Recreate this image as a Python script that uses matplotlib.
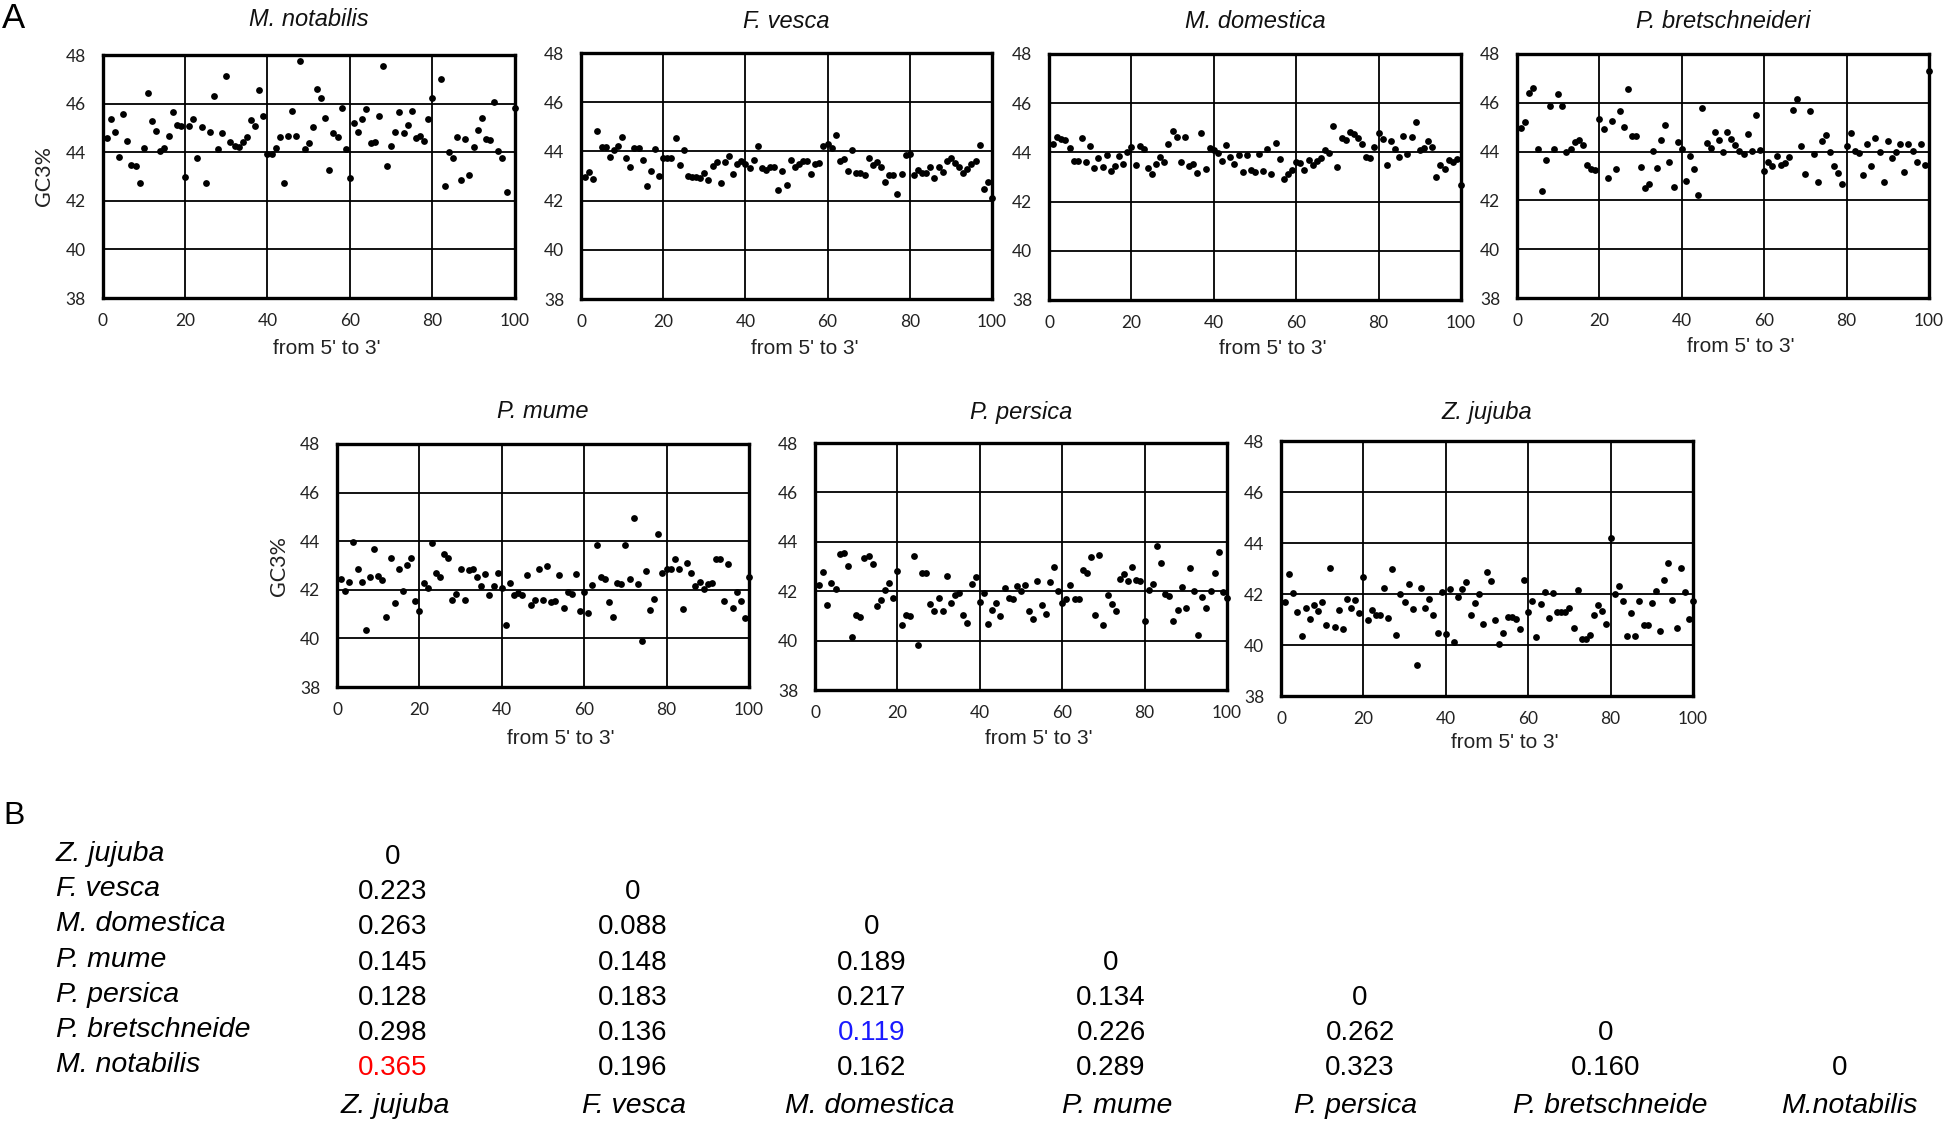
import numpy as np
import matplotlib
matplotlib.use("Agg")
import matplotlib.pyplot as plt

# ---------------- data ----------------
x_pos = np.arange(1, 101)
nan = np.nan

m_notabilis = [44.60, 45.38, 44.84, 43.82, 45.58, 44.48, 43.49, 43.42, 42.75, 44.18,
               46.45, 45.29, 44.88, 44.03, 44.16, 44.67, 45.64, 45.11, 45.08, 42.99,
               45.08, 45.38, 43.77, 45.05, 42.73, 44.82, 46.33, 44.14, 44.78, 47.12,
               44.44, 44.26, 44.21, 44.40, 44.63, 45.34, 45.07, 46.56, 45.51, 43.92,
               43.93, 44.19, 44.64, 42.75, 44.68, 45.70, 44.67, 47.75, 44.15, 44.37,
               45.03, 46.59, 46.25, 45.42, 43.26, 44.78, 44.63, 45.82, 44.12, 42.93,
               45.21, 44.84, 45.36, 45.77, 44.36, 44.42, 45.47, 47.56, 43.45, 44.26,
               44.82, 45.67, 44.81, 45.11, 45.71, 44.60, 44.67, 44.45, 45.36, 46.21,
               nan, 47.00, 42.60, 44.00, 43.75, 44.62, 42.85, 44.55, 43.05, 44.22,
               44.92, 45.40, 44.56, 44.52, 46.06, 44.05, 43.76, 42.35, nan, 45.81]

f_vesca = [42.94, 43.17, 42.88, 44.81, 44.17, 44.17, 43.77, 44.04, 44.23, 44.57,
           43.73, 43.35, 44.12, 44.12, 43.65, 42.60, 43.21, 44.10, 42.98, 43.73,
           43.73, 43.73, 44.56, 43.43, 44.06, 42.98, 42.97, 42.94, 42.91, 43.13,
           42.84, 43.41, 43.55, 42.71, 43.55, 43.82, 43.09, 43.50, 43.63, 43.50,
           43.32, 43.67, 44.20, 43.31, 43.25, 43.36, 43.36, 42.44, 43.19, 42.62,
           43.67, 43.37, 43.50, 43.63, 43.60, 43.09, 43.47, 43.52, 44.23, 44.31,
           44.15, 44.67, 43.63, 43.68, 43.20, 44.04, 43.13, 43.13, 43.03, 43.74,
           43.43, 43.57, 43.36, 42.74, 43.03, 43.03, 42.27, 43.09, 43.85, 43.90,
           43.05, 43.25, 43.13, 43.13, 43.36, 42.90, 43.36, 43.17, 43.60, 43.74,
           43.52, 43.35, 43.13, 43.28, 43.50, 43.63, 44.26, 42.49, 42.76, 42.10]

m_domestica = [44.36, 44.62, 44.54, 44.51, 44.19, 43.64, 43.67, 44.58, 43.62, 44.27,
               43.36, 43.78, 43.40, 43.89, 43.24, 43.43, 43.86, 43.51, 44.00, 44.23,
               43.47, 44.27, 44.15, 43.37, 43.13, 43.54, 43.83, 43.62, 44.34, 44.88,
               44.61, 43.62, 44.63, 43.45, 43.54, 43.16, 44.80, 43.31, 44.16, 44.11,
               43.98, 43.66, 44.32, 43.83, 43.54, 43.88, 43.22, 43.89, 43.29, 43.20,
               43.93, 43.25, 44.15, 43.14, 44.38, 43.73, 42.90, 43.12, 43.28, 43.62,
               43.56, 43.29, 43.70, 43.50, 43.67, 43.77, 44.09, 43.96, 45.08, 43.40,
               44.58, 44.51, 44.81, 44.73, 44.58, 44.34, 43.83, 43.77, 44.21, 44.78,
               44.55, 43.50, 44.47, 44.13, 43.82, 44.68, 43.92, 44.62, 45.22, 44.11,
               44.19, 44.47, 44.21, 43.01, 43.47, 43.31, 43.69, 43.63, 43.74, 42.68]

p_bretschneideri = [44.97, 45.21, 46.41, 46.62, 44.12, 42.38, 43.67, 45.85, 44.12, 46.38,
                    45.86, 43.97, 44.10, 44.40, 44.47, 44.26, 43.47, 43.29, 43.25, 45.33,
                    44.92, 42.90, 45.26, 43.30, 45.66, 44.99, 46.58, 44.62, 44.62, 43.36,
                    42.49, 42.67, 44.03, 43.34, 44.47, 45.08, 43.59, 42.53, 44.41, 44.12,
                    42.79, 43.81, 43.30, 42.22, 45.79, 44.36, 44.14, 44.79, 44.47, 43.97,
                    44.79, 44.51, 44.26, 44.04, 43.89, 44.73, 44.03, 45.48, 44.07, 43.19,
                    43.56, 43.42, 43.84, 43.44, 43.53, 43.78, 45.71, 46.15, 44.23, 43.08,
                    45.66, 43.92, 42.77, 44.44, 44.66, 43.97, 43.40, 43.14, 42.68, 44.23,
                    44.78, 44.03, 43.93, 43.04, 44.33, 43.40, 44.56, 43.99, 42.74, 44.44,
                    43.75, 44.00, 44.30, 43.15, 44.30, 44.04, 43.56, 44.30, 43.47, 47.29]

p_mume = [42.46, 41.95, 42.33, 43.98, 42.85, 42.33, 40.33, 42.54, 43.67, 42.58,
          42.40, 40.90, 43.31, 41.45, 42.86, 41.94, 43.01, 43.29, 41.52, 41.13,
          42.26, 42.07, 43.91, 42.68, 42.54, 43.46, 43.31, 41.59, 41.84, 42.84,
          41.56, 42.80, 42.84, 42.51, 42.15, 42.66, 41.79, 42.15, 42.71, 42.08,
          40.55, 42.30, 41.79, 41.88, 41.79, 42.60, 41.37, 41.56, 42.86, 41.59,
          43.00, 41.48, 41.52, 42.59, 41.24, 41.89, 41.82, 42.64, 41.13, 41.89,
          41.04, 42.21, 43.85, 42.52, 42.46, 41.48, 40.90, 42.26, 42.23, 43.85,
          42.46, 44.94, 42.23, 39.91, 42.77, 41.18, 41.64, 44.28, 42.71, 42.86,
          42.84, 43.25, 42.84, 41.21, 43.10, 42.71, 42.15, 42.34, 42.04, 42.23,
          42.26, 43.27, 43.25, 41.53, 43.08, 41.26, 41.92, 41.53, 40.85, 42.52]

p_persica = [42.27, 42.77, 41.43, 42.34, 42.08, 43.51, 43.55, 43.04, 40.15, 41.05,
             40.97, 43.35, 43.42, 43.11, 41.42, 41.65, 42.03, 42.32, 41.72, 42.82,
             40.62, 41.05, 41.01, 43.43, 39.81, 42.72, 42.73, 41.50, 41.18, 41.73,
             41.20, 42.61, 41.51, 41.86, 41.92, 41.04, 40.70, 42.31, 42.57, 41.55,
             41.92, 40.69, 41.23, 41.53, 40.99, 42.11, 41.73, 41.68, 42.23, 42.01,
             42.27, 41.18, 40.86, 42.41, 41.45, 41.07, 42.36, 42.96, 42.00, 41.53,
             41.70, 42.24, 41.70, 41.68, 42.85, 42.72, 43.38, 41.03, 43.47, 40.64,
             41.84, 41.49, 41.18, 42.50, 42.70, 42.43, 43.00, 42.47, 42.41, 40.81,
             42.03, 42.31, 43.82, 43.16, 41.88, 41.81, 40.81, 41.22, 42.16, 41.34,
             42.93, 42.00, 40.23, 41.78, 41.32, 42.00, 42.73, 43.58, 41.96, 41.74]

z_jujuba = [41.70, 42.80, 42.03, 41.31, 40.34, 41.46, 41.01, 41.56, 41.33, 41.69,
            40.77, 43.01, 40.72, 41.36, 40.61, 41.82, 41.44, 41.75, 41.24, 42.68,
            40.98, 41.39, 41.18, 41.18, 42.24, 41.06, 42.99, 40.41, 42.00, 41.67,
            42.38, 41.42, 39.20, 42.24, 41.45, 41.79, 41.18, 40.46, 42.09, 40.43,
            42.18, 40.12, 41.90, 42.21, 42.47, 41.18, 41.65, 41.99, 40.84, 42.85,
            42.50, 40.98, 40.05, 40.48, 41.11, 41.11, 41.01, 40.64, 42.56, 41.31,
            41.73, 40.31, 41.61, 42.08, 41.06, 42.05, 41.31, 41.28, 41.28, 41.46,
            40.68, 42.14, 40.25, 40.25, 40.38, 41.16, 41.58, 41.32, 40.81, 44.20,
            42.00, 42.33, 41.73, 40.37, 41.26, 40.34, 41.74, 40.78, 40.78, 41.63,
            42.10, 40.54, 42.55, 43.22, 41.76, 40.68, 43.01, 42.08, 41.02, 41.73]

panel_titles = ["M. notabilis", "F. vesca", "M. domestica", "P. bretschneideri",
                "P. mume", "P. persica", "Z. jujuba"]
panel_series = [m_notabilis, f_vesca, m_domestica, p_bretschneideri,
                p_mume, p_persica, z_jujuba]
x_ticks = [0, 20, 40, 60, 80, 100]
y_ticks = [38, 40, 42, 44, 46, 48]
x_label = "from 5' to 3'"
y_label = "GC3%"

table_rows = ["Z. jujuba", "F. vesca", "M. domestica", "P. mume", "P. persica",
              "P. bretschneide", "M. notabilis"]
table_cols = ["Z. jujuba", "F. vesca", "M. domestica", "P. mume", "P. persica",
              "P. bretschneide", "M.notabilis"]
table_vals = [
    [0],
    [0.223, 0],
    [0.263, 0.088, 0],
    [0.145, 0.148, 0.189, 0],
    [0.128, 0.183, 0.217, 0.134, 0],
    [0.298, 0.136, 0.119, 0.226, 0.262, 0],
    [0.365, 0.196, 0.162, 0.289, 0.323, 0.160, 0],
]
highlight = {(6, 0): "#ff0000", (5, 2): "#1a1aff"}

# ---------------- layout ----------------
W, H = 1944, 1123
fig = plt.figure(figsize=(W / 100, H / 100), dpi=100)
ARIAL = "Liberation Sans"
CALIBRI = "Lato"

# (left, right, top, bottom) in pixels
boxes = [(102.6, 514.8, 55, 298), (581, 992, 53, 299), (1049, 1461, 54, 300),
         (1517, 1929, 54, 298), (337, 749, 444, 687), (815, 1227, 443, 690),
         (1281, 1693, 441, 696)]
title_y = [20, 21, 21, 21, 412, 412, 412]
xlabel_off = [50, 49, 48, 48, 51, 48, 46]
xlabel_shift = 18  # px to the right of the axes centre

for i, (title, ys) in enumerate(zip(panel_titles, panel_series)):
    l, r, t, b = boxes[i]
    ax = fig.add_axes([l / W, 1 - b / H, (r - l) / W, (b - t) / H])
    ax.scatter(x_pos, ys, s=24, color="black", linewidths=0, zorder=3, clip_on=False)
    ax.set_xlim(0, 100)
    ax.set_ylim(38, 48)
    ax.set_xticks(x_ticks)
    ax.set_yticks(y_ticks)
    ax.grid(True, color="black", linewidth=1.3)
    ax.set_axisbelow(True)
    for s in ax.spines.values():
        s.set_linewidth(2.4)
        s.set_color("black")
    ax.tick_params(length=0, labelsize=12.5, colors="#222222")
    ax.tick_params(axis="y", pad=12)
    ax.tick_params(axis="x", pad=11)
    for lab in ax.get_xticklabels() + ax.get_yticklabels():
        lab.set_fontfamily(CALIBRI)
    ax.set_xlabel(x_label, fontsize=15, family=ARIAL, color="#222222")
    ax.xaxis.set_label_coords(0.5 + xlabel_shift / (r - l), -xlabel_off[i] / (b - t))
    ax.xaxis.label.set_va("center")
    if i in (0, 4):
        ax.set_ylabel(y_label, fontsize=15.5, family=CALIBRI, color="#222222")
        ax.yaxis.set_label_coords(-58.5 / (r - l), 0.5)
        ax.yaxis.label.set_va("center")
    fig.text((l + r) / 2 / W, 1 - title_y[i] / H, title, fontsize=17, style="italic",
             family=ARIAL, ha="center", va="center", color="#111111")

fig.text(2 / W, 1 - 19 / H, "A", fontsize=25, family=ARIAL, ha="left", va="center")
fig.text(3 / W, 1 - 816 / H, "B", fontsize=23, family=ARIAL, ha="left", va="center")

# ---------------- table B ----------------
row_y0, row_dy = 857, 35.2
col_x = [393, 633, 872, 1111, 1360, 1606, 1840]
col_lab_x = [395, 634, 870, 1117, 1356, 1610, 1849]
for ri, name in enumerate(table_rows):
    y = row_y0 + row_dy * ri
    fig.text(56 / W, 1 - (y - 3) / H, name, fontsize=20.5, style="italic", family=ARIAL,
             ha="left", va="center")
    for ci, v in enumerate(table_vals[ri]):
        txt = "0" if v == 0 else f"{v:.3f}"
        fig.text(col_x[ci] / W, 1 - y / H, txt, fontsize=20, family=ARIAL,
                 ha="center", va="center", color=highlight.get((ri, ci), "black"))
for ci, name in enumerate(table_cols):
    fig.text(col_lab_x[ci] / W, 1 - 1106 / H, name, fontsize=20.5, style="italic",
             family=ARIAL, ha="center", va="center")

fig.savefig("out.png", dpi=100, facecolor="white")
